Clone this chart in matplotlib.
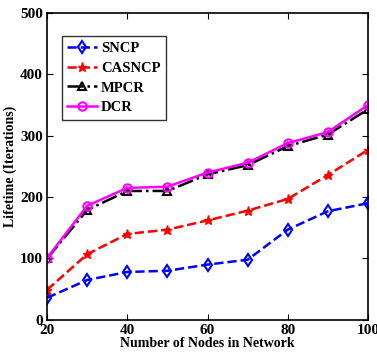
import matplotlib
matplotlib.use("Agg")
import matplotlib.pyplot as plt

plt.rcParams['font.family'] = ['Liberation Serif', 'DejaVu Serif']
plt.rcParams['font.weight'] = 'bold'

nodes = [20, 30, 40, 50, 60, 70, 80, 90, 100]
sncp = [36, 65, 78, 80, 90, 98, 147, 177, 190]
casncp = [49, 107, 140, 147, 162, 178, 197, 236, 277]
mpcr = [100, 179, 210, 210, 237, 252, 283, 302, 343]
dcr = [101, 186, 215, 217, 240, 256, 288, 306, 350]

x_ticks = [20, 40, 60, 80, 100]
y_ticks = [0, 100, 200, 300, 400, 500]

fig = plt.figure(figsize=(3.77, 3.61), dpi=100)
ax = fig.add_axes([0.125, 0.114, 0.851, 0.850])

ax.plot(nodes, sncp, color='blue', linestyle='--', linewidth=1.8, marker='d',
        markersize=6.5, markerfacecolor='none', markeredgewidth=1.5, label='SNCP')
ax.plot(nodes, casncp, color='red', linestyle='--', linewidth=1.8, marker='*',
        markersize=6.5, markerfacecolor='red', label='CASNCP')
ax.plot(nodes, mpcr, color='black', linestyle='-.', linewidth=1.8, marker='^',
        markersize=6, markerfacecolor='none', markeredgewidth=1.5, label='MPCR')
ax.plot(nodes, dcr, color='magenta', linestyle='-', linewidth=1.8, marker='o',
        markersize=6, markerfacecolor='none', markeredgewidth=1.5, label='DCR')

ax.set_xlim(20, 100)
ax.set_ylim(0, 500)
ax.set_xticks(x_ticks)
ax.set_yticks(y_ticks)
ax.tick_params(direction='in', top=True, right=True, labelsize=11, length=4, pad=3)
for lab in ax.get_xticklabels() + ax.get_yticklabels():
    lab.set_fontweight('bold')
for s in ax.spines.values():
    s.set_linewidth(1.2)

ax.set_xlabel('Number of Nodes in Network', fontsize=10, fontweight='bold', labelpad=0)
ax.set_ylabel('Lifetime (Iterations)', fontsize=10, fontweight='bold', labelpad=2)

leg = ax.legend(loc='upper left', bbox_to_anchor=(0.045, 0.925), fontsize=10.5,
                frameon=True, fancybox=False, edgecolor='black', handlelength=2.0,
                borderpad=0.4, labelspacing=0.45, handletextpad=0.3, borderaxespad=0)
leg.get_frame().set_linewidth(1.0)
for t in leg.get_texts():
    t.set_fontweight('bold')

fig.savefig('out.png', dpi=100)
